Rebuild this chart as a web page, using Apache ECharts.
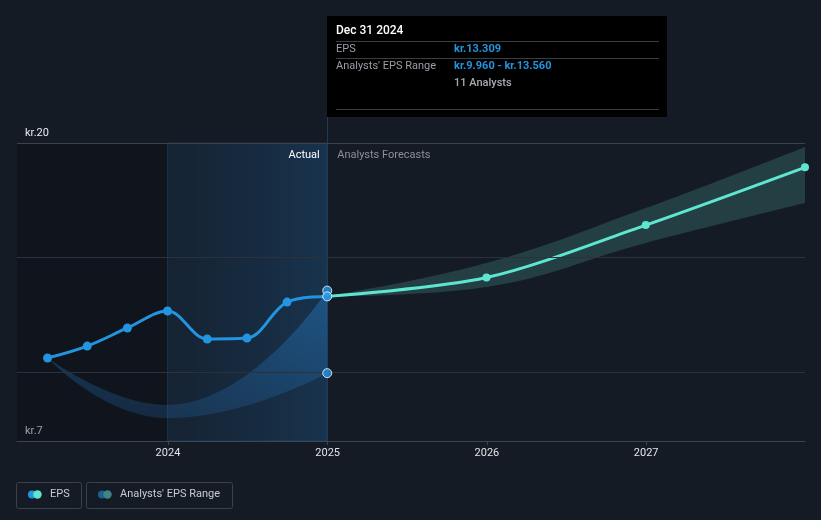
<!DOCTYPE html>
<html>
<head>
<meta charset="utf-8">
<script src="https://cdn.jsdelivr.net/npm/echarts@6/dist/echarts.min.js"></script>
<style>
  html, body { margin: 0; padding: 0; background: #151b24; }
  #myChart { width: 821px; height: 520px; }
</style>
</head>
<body>
<div id="myChart"></div>
<script>
// EPS actuals (quarterly)
var actualDates = ["2023-03-31", "2023-06-30", "2023-09-30", "2023-12-31", "2024-03-31", "2024-06-30", "2024-09-30", "2024-12-31"];
var actualEps = [10.62, 11.14, 11.93, 12.67, 11.45, 11.49, 13.06, 13.309];

// analysts forecast (yearly)
var forecastDates = ["2024-12-31", "2025-12-31", "2026-12-31", "2027-12-31"];
var forecastEps = [13.309, 14.13, 16.42, 18.94];

// past range band
var pastRangeDates = ["2023-03-31", "2023-12-31", "2024-12-31"];
var pastRangeLow = [10.62, 8.0, 9.96];
var pastRangeHigh = [10.62, 8.57, 13.56];

// forecast range band
var fcRangeLow = [13.309, 13.72, 15.64, 17.38];
var fcRangeHigh = [13.309, 14.76, 17.16, 19.83];

var gridValues = [10, 15];
var topValue = 20;

function ts(s) {
  var p = s.split("-");
  return new Date(+p[0], +p[1] - 1, +p[2]).getTime();
}
function pairs(dates, vals) {
  var out = [];
  for (var i = 0; i < dates.length; i++) out.push([ts(dates[i]), vals[i]]);
  return out;
}
function diffs(dates, lo, hi) {
  var out = [];
  for (var i = 0; i < dates.length; i++) out.push([ts(dates[i]), +(hi[i] - lo[i]).toFixed(3)]);
  return out;
}

var xMin = ts("2023-01-20");
var xMax = ts("2027-12-31");
var FONT = "Roboto";
var YEAR = 365 * 24 * 3600 * 1000;

var myChart = echarts.init(document.getElementById("myChart"));

var option = {
  backgroundColor: "#151b24",
  animation: false,
  textStyle: { fontFamily: FONT },
  grid: { left: 17, right: 16, top: 143, bottom: 79 },
  xAxis: {
    type: "time",
    min: xMin,
    max: xMax,
    minInterval: YEAR,
    axisLine: { lineStyle: { color: "#3e444e", width: 1 } },
    axisTick: { show: true, length: 4, lineStyle: { color: "#3e444e" } },
    axisLabel: {
      color: "#e2e4e8",
      fontSize: 11,
      margin: 7,
      fontFamily: FONT,
      showMinLabel: false,
      showMaxLabel: false,
      formatter: "{yyyy}"
    },
    splitLine: { show: false }
  },
  yAxis: {
    type: "value",
    min: 7,
    max: 20,
    interval: 1,
    axisLine: { show: false },
    axisTick: { show: false },
    splitLine: { show: false },
    axisLabel: {
      inside: true,
      margin: 8,
      color: "#e8eaee",
      fontSize: 11,
      fontFamily: FONT,
      verticalAlign: "bottom",
      padding: [0, 0, 4, 0],
      formatter: function(v) { return (v === 7 || v === 20) ? "kr." + v : ""; }
    }
  },
  series: [
    {
      // grid lines + shaded periods
      name: "bg",
      type: "line",
      data: [],
      silent: true,
      markLine: {
        silent: true,
        symbol: ["none", "none"],
        label: { show: false },
        lineStyle: { color: "#2c323c", type: "solid", width: 1 },
        data: gridValues.map(function(v) { return { yAxis: v }; })
          .concat([{ yAxis: topValue, lineStyle: { color: "#3c424b" } }])
      },
      markArea: {
        silent: true,
        data: [
          [
            { xAxis: xMin, itemStyle: { color: "rgba(8,10,14,0.35)" } },
            { xAxis: ts("2023-12-31") }
          ],
          [
            {
              xAxis: ts("2023-12-31"),
              itemStyle: {
                color: new echarts.graphic.LinearGradient(0, 0, 1, 0, [
                  { offset: 0, color: "rgba(24,70,115,0.18)" },
                  { offset: 1, color: "rgba(28,85,135,0.42)" }
                ]),
                borderColor: "rgba(40,100,160,0.3)",
                borderWidth: 1
              },
              label: {
                show: true,
                position: "insideTopRight",
                formatter: "Actual",
                color: "#ffffff",
                fontSize: 11,
                fontFamily: FONT,
                offset: [-3, 2]
              }
            },
            { xAxis: ts("2024-12-31") }
          ],
          [
            {
              xAxis: ts("2024-12-31"),
              itemStyle: { color: "rgba(0,0,0,0)" },
              label: {
                show: true,
                position: "insideTopLeft",
                formatter: "Analysts Forecasts",
                color: "#8b9098",
                fontSize: 11,
                fontFamily: FONT,
                offset: [5, 2]
              }
            },
            { xAxis: xMax }
          ]
        ]
      }
    },
    {
      name: "pastLow",
      type: "line",
      stack: "past",
      smooth: 0.5,
      symbol: "none",
      silent: true,
      lineStyle: { opacity: 0 },
      data: pairs(pastRangeDates, pastRangeLow)
    },
    {
      name: "Analysts' EPS Range",
      type: "line",
      stack: "past",
      smooth: 0.5,
      symbol: "none",
      silent: true,
      lineStyle: { opacity: 0 },
      areaStyle: {
        color: new echarts.graphic.LinearGradient(0, 0, 0, 1, [
          { offset: 0, color: "rgba(40,130,210,0.6)" },
          { offset: 1, color: "rgba(35,110,180,0.35)" }
        ])
      },
      data: diffs(pastRangeDates, pastRangeLow, pastRangeHigh)
    },
    {
      name: "fcLow",
      type: "line",
      stack: "fc",
      smooth: 0.4,
      symbol: "none",
      silent: true,
      lineStyle: { opacity: 0 },
      data: pairs(forecastDates, fcRangeLow)
    },
    {
      name: "fcRange",
      type: "line",
      stack: "fc",
      smooth: 0.4,
      symbol: "none",
      silent: true,
      lineStyle: { opacity: 0 },
      areaStyle: { color: "rgba(94,224,205,0.27)" },
      data: diffs(forecastDates, fcRangeLow, fcRangeHigh)
    },
    {
      name: "EPS",
      type: "line",
      smooth: 0.35,
      symbol: "circle",
      symbolSize: 9,
      showSymbol: true,
      z: 5,
      itemStyle: { color: "#2394df" },
      lineStyle: { color: "#2394df", width: 3 },
      data: pairs(actualDates, actualEps)
    },
    {
      name: "EPS forecast",
      type: "line",
      smooth: 0.3,
      symbol: "circle",
      symbolSize: 8,
      z: 4,
      itemStyle: { color: "#5ee6d0" },
      lineStyle: { color: "#5ee6d0", width: 3 },
      data: pairs(forecastDates, forecastEps)
    },
    {
      // hovered points at Dec 31 2024
      name: "hover",
      type: "scatter",
      symbolSize: 9,
      z: 6,
      itemStyle: { color: "#2394df", borderColor: "#ffffff", borderWidth: 1 },
      data: [
        [ts("2024-12-31"), pastRangeHigh[2]],
        [ts("2024-12-31"), actualEps[7]],
        [ts("2024-12-31"), pastRangeLow[2]]
      ]
    }
  ]
};

myChart.setOption(option);

// tooltip box + crosshair + legend, placed from the axis scale
var hp = myChart.convertToPixel({ gridIndex: 0 }, [ts("2024-12-31"), 7]);
var bx = Math.round(hp[0]);
var txtGray = "#9a9ea6";
var blue = "#2394df";

function t(x, y, s, color, weight) {
  return {
    type: "text",
    x: x, y: y, z: 101,
    style: { text: s, fill: color, font: (weight || "normal") + " 11px " + FONT, textVerticalAlign: "middle" }
  };
}
function hl(x1, x2, y) {
  return { type: "line", z: 101, shape: { x1: x1, y1: y, x2: x2, y2: y }, style: { stroke: "#3a3d42", lineWidth: 1 } };
}

myChart.setOption({
  graphic: [
    { type: "line", z: 1, shape: { x1: bx + 0.5, y1: 16, x2: bx + 0.5, y2: hp[1] }, style: { stroke: "#1f3a56", lineWidth: 1 } },
    { type: "rect", z: 100, shape: { x: bx, y: 16, width: 340, height: 101 }, style: { fill: "#000000" } },
    {
      type: "text", x: bx + 9, y: 31, z: 101,
      style: { text: "Dec 31 2024", fill: "#ffffff", font: "500 12px " + FONT, textVerticalAlign: "middle" }
    },
    hl(bx + 9, bx + 332, 41.5),
    t(bx + 9, 49, "EPS", txtGray),
    t(bx + 127, 49, "kr.13.309", blue, "bold"),
    hl(bx + 9, bx + 332, 58.5),
    t(bx + 9, 66, "Analysts' EPS Range", txtGray),
    t(bx + 127, 66, "kr.9.960 - kr.13.560", blue, "bold"),
    t(bx + 127, 83, "11 Analysts", "#a8acb2", "500"),
    hl(bx + 9, bx + 332, 109.5),

    // legend
    { type: "rect", shape: { x: 16.5, y: 482.5, width: 65, height: 26, r: 2 }, style: { fill: "none", stroke: "#3b414b", lineWidth: 1 } },
    { type: "circle", shape: { cx: 32, cy: 494.5, r: 4 }, style: { fill: "#2394df" } },
    { type: "circle", shape: { cx: 37.5, cy: 494.5, r: 4.2 }, style: { fill: "#5ee6d0" } },
    { type: "text", x: 50, y: 494.5, style: { text: "EPS", fill: "#c8ccd2", font: "11px " + FONT, textVerticalAlign: "middle" } },
    { type: "rect", shape: { x: 86.5, y: 482.5, width: 146, height: 26, r: 2 }, style: { fill: "none", stroke: "#3b414b", lineWidth: 1 } },
    { type: "circle", shape: { cx: 102, cy: 494.5, r: 4 }, style: { fill: "#1f5f8f" } },
    { type: "circle", shape: { cx: 107.5, cy: 494.5, r: 4.2 }, style: { fill: "#3f8583" } },
    { type: "text", x: 120, y: 494.5, style: { text: "Analysts' EPS Range", fill: "#c8ccd2", font: "11px " + FONT, textVerticalAlign: "middle" } }
  ]
});
</script>
</body>
</html>
